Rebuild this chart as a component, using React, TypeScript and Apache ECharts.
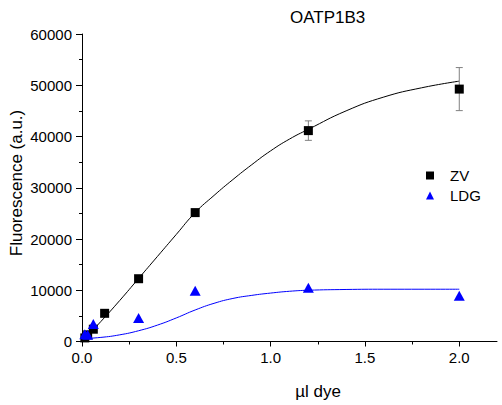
import React, { useEffect, useRef } from "react";
import * as echarts from "echarts";

const FONT = "Liberation Sans, Arial, sans-serif";

// measured data
const zvX = [0.015, 0.03, 0.06, 0.12, 0.3, 0.6, 1.2, 2.0];
const zvY = [700, 1300, 2400, 5500, 12250, 25150, 41150, 49250];
const zvErr = [0, 0, 0, 0, 0, 0, 1900, 4200];

const ldgX = [0.015, 0.03, 0.06, 0.3, 0.6, 1.2, 2.0];
const ldgY = [1400, 1300, 3400, 4600, 9900, 10500, 8950];

// fitted curves
const zvFitX = [0, 0.1, 0.2, 0.3, 0.4, 0.5, 0.6, 0.7, 0.8, 0.9, 1.0, 1.1, 1.2, 1.4, 1.6, 1.8, 2.0];
const zvFitY = [0, 3900, 8000, 12300, 16600, 20900, 25150, 28500, 31600, 34500, 37200, 39500, 41400, 45000, 47700, 49500, 50800];

const ldgFitX = [0, 0.1, 0.2, 0.3, 0.4, 0.5, 0.6, 0.7, 0.8, 0.9, 1.0, 1.1, 1.2, 1.4, 1.6, 2.0];
const ldgFitY = [550, 800, 1300, 2100, 3200, 4600, 6150, 7450, 8400, 9000, 9450, 9800, 10000, 10150, 10200, 10200];

const xMajor = [0, 0.5, 1.0, 1.5, 2.0];
const xMinor = [0.25, 0.75, 1.25, 1.75];

export default function App() {
  const ref = useRef<HTMLDivElement>(null);
  useEffect(() => {
    if (!ref.current) return;
    const chart = echarts.init(ref.current, null, { renderer: "svg" });
    const errData = zvX
      .map((x, i) => [x, zvY[i], zvErr[i]])
      .filter((d) => d[2] > 0);
    chart.setOption({
      animation: false,
      backgroundColor: "#fff",
      textStyle: { fontFamily: FONT },
      title: {
        text: "OATP1B3",
        left: 285,
        top: 4,
        textStyle: { fontSize: 17, fontWeight: "normal", color: "#000", fontFamily: FONT },
      },
      legend: {
        orient: "vertical",
        left: 421,
        top: 163,
        itemWidth: 8,
        itemHeight: 8,
        itemGap: 5,
        data: [
          { name: "ZV", icon: "rect" },
          { name: "LDG", icon: "triangle" },
        ],
        textStyle: { fontSize: 15, color: "#000", fontFamily: FONT, padding: [0, 0, 0, 11] },
      },
      grid: { left: 82, right: 5, top: 34, bottom: 63.5 },
      xAxis: [
        {
          type: "value",
          min: 0,
          max: 2.2,
          interval: 0.5,
          position: "bottom",
          axisLine: { lineStyle: { color: "#000", width: 1 } },
          axisTick: { length: 5, customValues: xMajor, lineStyle: { color: "#000" } },
          axisLabel: {
            customValues: xMajor,
            formatter: (v: number) => v.toFixed(1),
            fontSize: 15,
            color: "#000",
            margin: 8,
            fontFamily: FONT,
          },
          splitLine: { show: false },
        },
        {
          type: "value",
          min: 0,
          max: 2.2,
          interval: 0.5,
          position: "bottom",
          axisLine: { show: false },
          axisTick: { length: 3, customValues: xMinor, lineStyle: { color: "#000" } },
          axisLabel: { show: false },
          splitLine: { show: false },
        },
      ],
      yAxis: {
        type: "value",
        min: 0,
        max: 60000,
        interval: 10000,
        axisLine: { show: true, lineStyle: { color: "#000", width: 1 } },
        axisTick: { show: true, length: 6, lineStyle: { color: "#000" } },
        minorTick: { show: true, splitNumber: 2, length: 3, lineStyle: { color: "#000" } },
        axisLabel: {
          formatter: (v: number) => String(v),
          fontSize: 15,
          color: "#000",
          margin: 10,
          fontFamily: FONT,
        },
        splitLine: { show: false },
      },
      graphic: [
        {
          type: "text",
          x: 16.5,
          y: 183,
          rotation: Math.PI / 2,
          style: {
            text: "Fluorescence (a.u.)",
            fontSize: 17,
            fill: "#000",
            fontFamily: FONT,
            textAlign: "center",
            textVerticalAlign: "middle",
          },
        },
        {
          type: "text",
          x: 318,
          y: 391,
          style: {
            text: "\u00b5l dye",
            fontSize: 17,
            fill: "#000",
            fontFamily: FONT,
            textAlign: "center",
            textVerticalAlign: "middle",
          },
        },
      ],
      series: [
        {
          name: "ZV fit",
          type: "line",
          data: zvFitX.map((x, i) => [x, zvFitY[i]]),
          smooth: true,
          showSymbol: false,
          lineStyle: { color: "#000", width: 1 },
          z: 1,
        },
        {
          name: "LDG fit",
          type: "line",
          data: ldgFitX.map((x, i) => [x, ldgFitY[i]]),
          smooth: true,
          showSymbol: false,
          lineStyle: { color: "#0000ff", width: 1 },
          z: 1,
        },
        {
          name: "ZV err",
          type: "custom",
          data: errData,
          z: 2,
          renderItem: (params: any, api: any) => {
            const x = api.value(0);
            const y = api.value(1);
            const e = api.value(2);
            const t = api.coord([x, y + e]);
            const b = api.coord([x, y - e]);
            const hw = 3.5;
            const st = { stroke: "#808080", lineWidth: 1 };
            return {
              type: "group",
              children: [
                { type: "line", shape: { x1: t[0], y1: t[1], x2: b[0], y2: b[1] }, style: st },
                { type: "line", shape: { x1: t[0] - hw, y1: t[1], x2: t[0] + hw, y2: t[1] }, style: st },
                { type: "line", shape: { x1: b[0] - hw, y1: b[1], x2: b[0] + hw, y2: b[1] }, style: st },
              ],
            };
          },
        },
        {
          name: "ZV",
          type: "scatter",
          data: zvX.map((x, i) => [x, zvY[i]]),
          symbol: "rect",
          symbolSize: 9,
          itemStyle: { color: "#000", opacity: 1 },
          z: 3,
        },
        {
          name: "LDG",
          type: "scatter",
          data: ldgX.map((x, i) => [x, ldgY[i]]),
          symbol: "triangle",
          symbolSize: [11, 10],
          itemStyle: { color: "#0000ff", opacity: 1 },
          z: 3,
        },
      ],
    });
    return () => chart.dispose();
  }, []);
  return <div ref={ref} style={{ width: 502, height: 405, position: "absolute", left: 0, top: 0 }} />;
}
